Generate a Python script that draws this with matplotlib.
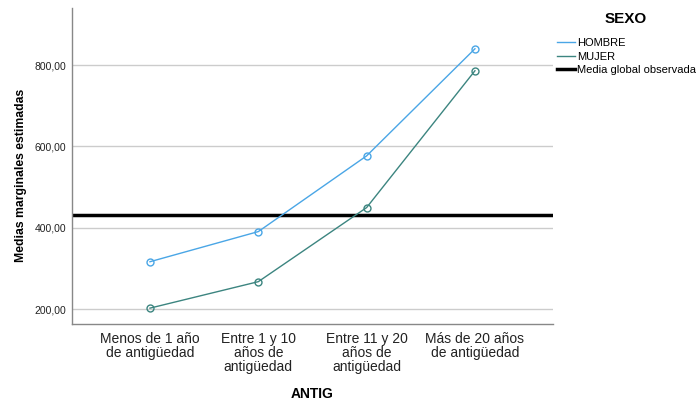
import matplotlib.pyplot as plt
from matplotlib.lines import Line2D

plt.rcParams['font.family'] = ['Liberation Sans', 'DejaVu Sans']

#data
categorias = ["Menos de 1 año\nde antigüedad", "Entre 1 y 10\naños de\nantigüedad",
              "Entre 11 y 20\naños de\nantigüedad", "Más de 20 años\nde antigüedad"]
hombre = [317, 391, 577, 840]
mujer = [203, 268, 450, 786]
media_global = 431
yticks = [200, 400, 600, 800]

col_h = "#4AA6E6"
col_m = "#3C8580"

fig = plt.figure(figsize=(6.97, 4.03), dpi=100)
ax = fig.add_axes([0.1033, 0.196, 0.69, 0.784])

x = list(range(len(categorias)))
for yv in yticks:
    ax.axhline(yv, color="#cccccc", lw=1, zorder=1)
ax.axhline(media_global, color="black", lw=2.5, zorder=2)
ax.plot(x, hombre, color=col_h, lw=1, marker="o", ms=5, mfc="none", mew=1, zorder=3)
ax.plot(x, mujer, color=col_m, lw=1, marker="o", ms=5, mfc="none", mew=1, zorder=3)

ax.set_xlim(-0.72, 3.72)
ax.set_ylim(164, 940)
ax.set_xticks(x)
ax.set_xticklabels(categorias, fontsize=10, color="#222222", linespacing=1.0)
ax.set_yticks(yticks)
ax.set_yticklabels([f"{v},00" for v in yticks], fontsize=7.5, color="#222222")
ax.tick_params(length=0, pad=4)
ax.tick_params(axis="x", pad=6)
for s in ["top", "right"]:
    ax.spines[s].set_visible(False)
for s in ["left", "bottom"]:
    ax.spines[s].set_color("#888888")
    ax.spines[s].set_linewidth(1)

ax.set_xlabel("ANTIG", fontsize=10, fontweight="bold")
ax.xaxis.set_label_coords(0.5, -0.2)
ax.set_ylabel("Medias marginales estimadas", fontsize=8.8, fontweight="bold")
ax.yaxis.set_label_coords(-0.093, 0.47)

fig.text(0.898, 0.953, "SEXO", fontsize=11, fontweight="bold", ha="center", va="center")
handles = [Line2D([], [], color=col_h, lw=1),
           Line2D([], [], color=col_m, lw=1),
           Line2D([], [], color="black", lw=2.5)]
leg = fig.legend(handles, ["HOMBRE", "MUJER", "Media global observada"],
                 loc="upper left", bbox_to_anchor=(0.788, 0.925), frameon=False,
                 fontsize=8, handlelength=1.6, handletextpad=0.2, labelspacing=0.32,
                 borderpad=0.2)

fig.savefig("out.png", dpi=100)
